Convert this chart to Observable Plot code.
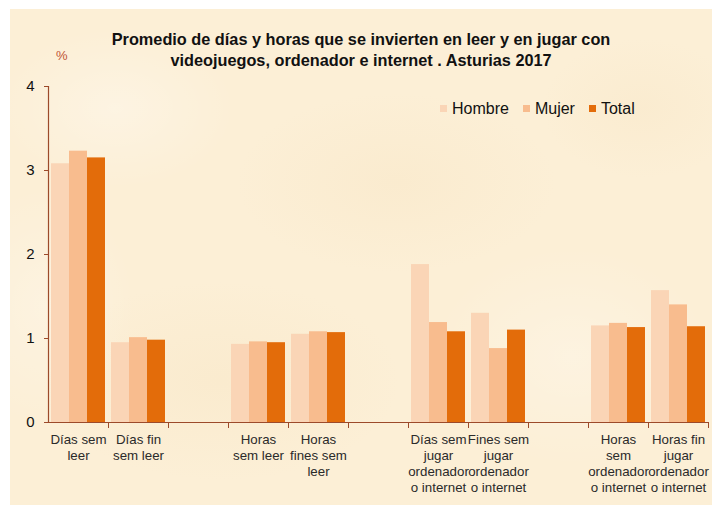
<!DOCTYPE html>
<html><head><meta charset="utf-8">
<script src="https://cdn.jsdelivr.net/npm/d3@7"></script>
<script src="https://cdn.jsdelivr.net/npm/@observablehq/plot@0.6"></script>
<style>
body{margin:0;background:#fff;font-family:"Liberation Sans",Arial,sans-serif;}
#page{position:relative;width:712px;height:508px;overflow:hidden;background:#fff}
#paper{position:absolute;left:10px;top:9px;width:702px;height:496px;
 background:
  radial-gradient(ellipse 120px 80px at 15% 20%, rgba(255,255,255,0.3), transparent),
  radial-gradient(ellipse 160px 90px at 55% 35%, rgba(240,212,165,0.15), transparent),
  radial-gradient(ellipse 140px 110px at 80% 70%, rgba(255,255,255,0.25), transparent),
  radial-gradient(ellipse 180px 100px at 30% 75%, rgba(238,210,160,0.14), transparent),
  radial-gradient(ellipse 100px 70px at 90% 20%, rgba(240,214,170,0.14), transparent),
  radial-gradient(ellipse 90px 120px at 5% 60%, rgba(255,255,255,0.25), transparent),
  #fcefd6;}
#title{position:absolute;left:10px;top:29px;width:702px;text-align:center;font-weight:bold;font-size:16.3px;line-height:21px;color:#111}
#pct{position:absolute;left:56px;top:48px;font-size:13px;color:#bf5535}
#legend{position:absolute;left:440px;top:100px;font-size:16px;color:#111;white-space:nowrap}
#legend span.item{margin-right:14px}
#legend i{display:inline-block;width:7px;height:7px;margin-right:5px;vertical-align:2px}
#chart{position:absolute;left:0;top:0}
</style>
</head><body>
<div id="page">
 <div id="paper"></div>
 <div id="title">Promedio de días y horas que se invierten en leer y en jugar con<br>videojuegos, ordenador e internet . Asturias 2017</div>
 <div id="pct">%</div>
 <div id="chart"></div>
 <div id="legend"></div>
</div>
<script>
const categories = ["c1","c2","b1","c3","c4","b2","c5","c6","b3","c7","c8"];
const categoryLabels = [
 "Días sem\nleer","Días fin\nsem leer","",
 "Horas\nsem leer","Horas\nfines sem\nleer","",
 "Días sem\njugar\nordenador\no internet","Fines sem\njugar\nordenador\no internet","",
 "Horas\nsem\nordenador\no internet","Horas fin\njugar\nordenador\no internet"
];
const series = ["Hombre","Mujer","Total"];
const hombre = [3.08, 0.95, null, 0.93, 1.05, null, 1.88, 1.30, null, 1.15, 1.57];
const mujer  = [3.23, 1.01, null, 0.96, 1.08, null, 1.19, 0.88, null, 1.18, 1.40];
const total  = [3.15, 0.98, null, 0.95, 1.07, null, 1.08, 1.10, null, 1.13, 1.14];
const colors = ["#fad5b6","#f8bc8e","#e36c0a"];
const yTicks = [0,1,2,3,4];

const values = [hombre, mujer, total];
const rows = [];
categories.forEach((c,i)=>series.forEach((s,j)=>{ rows.push({cat:c, serie:s, valor:values[j][i]}); }));
const labelOf = c => categoryLabels[categories.indexOf(c)];
const axisColor = "#9c4a2a";
const firstCat = categories[0];

const chart = Plot.plot({
  width:712, height:508,
  marginLeft:47, marginRight:4, marginTop:86, marginBottom:86,
  style:{background:"transparent", fontFamily:"Liberation Sans, Arial, sans-serif", color:"#111"},
  fx:{domain:categories, padding:0},
  x:{domain:series, paddingInner:0, paddingOuter:0.15, axis:null},
  y:{domain:[0,4], axis:null},
  color:{domain:series, range:colors},
  marks:[
    Plot.barY(rows, {fx:"cat", x:"serie", y:"valor", fill:"serie"}),
    Plot.ruleY([0], {stroke:axisColor, strokeWidth:1.2}),
    Plot.frame({anchor:"right", stroke:axisColor, insetTop:336, insetBottom:-5}),
    Plot.frame({anchor:"left", facetAnchor:"left", stroke:axisColor, strokeWidth:1.2}),
    Plot.axisY(yTicks, {fx:()=>firstCat, tickSize:4, tickPadding:10, stroke:axisColor, fill:"#111", fontSize:15, label:null, tickFormat:d=>String(d)}),
    Plot.axisFx({anchor:"bottom", tickSize:0, tickPadding:10, fontSize:13.3, lineHeight:1.2, fill:"#2a2a2a", label:null, tickFormat:labelOf})
  ]
});
document.getElementById("chart").appendChild(chart);

const legend = document.getElementById("legend");
series.forEach((s,j)=>{
  const sp = document.createElement("span"); sp.className="item";
  sp.innerHTML = `<i style="background:${colors[j]}"></i>${s}`;
  legend.appendChild(sp);
});
</script>
</body></html>
